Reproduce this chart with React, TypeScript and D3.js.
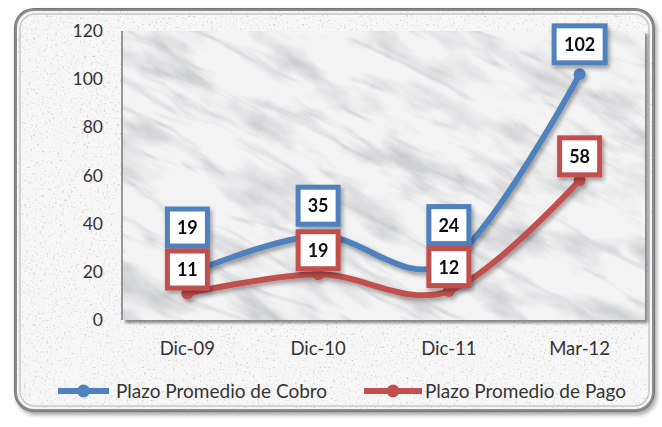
import React from 'react';
import * as d3 from 'd3';

const categories = ['Dic-09', 'Dic-10', 'Dic-11', 'Mar-12'];
const cobro = [19, 35, 24, 102];
const pago = [11, 19, 12, 58];
const yTicks = [0, 20, 40, 60, 80, 100, 120];

const seriesNames = ['Plazo Promedio de Cobro', 'Plazo Promedio de Pago'];
const BLUE = '#4f81bd';
const RED = '#c0504d';

const W = 662;
const H = 427;
const plot = { left: 122, right: 645, top: 31, bottom: 320 };

const App = () => {
    const x = d3.scalePoint<string>().domain(categories).range([plot.left, plot.right]).padding(0.5);
    const y = d3.scaleLinear().domain([0, 120]).range([plot.bottom, plot.top]);

    const line = d3.line<number>()
        .x((_, i) => x(categories[i]) as number)
        .y((d) => y(d))
        .curve(d3.curveCardinal.tension(0));

    // label placement: red sits a bit above its point, blue is stacked above red
    const redCy = pago.map((v) => y(v) - 24);
    const blueCy = cobro.map((v, i) => Math.min(y(v) - 30, redCy[i] - 42));

    const font = 'Lato, "Open Sans", sans-serif';

    const label = (v: number, cx: number, cy: number, color: string, key: string) => {
        const w = String(v).length > 2 ? 51 : 40;
        const h = 37;
        return (
            <g key={key} filter="url(#shadow)">
                <rect x={cx - w / 2} y={cy - h / 2} width={w} height={h} fill="#fff" stroke={color} strokeWidth={5} />
                <text x={cx} y={cy} dy="0.36em" textAnchor="middle" fontFamily={font} fontWeight={700} fontSize={18} fill="#111">
                    {v}
                </text>
            </g>
        );
    };

    // legend entries: [line start, line end, text x]
    const legend = [
        { col: BLUE, x0: 58, x1: 109, tx: 116 },
        { col: RED, x0: 364, x1: 422, tx: 425 },
    ];

    return (
        <svg width={W} height={H} style={{ position: 'absolute', left: 0, top: 0 }}>
            <defs>
                <filter id="speckle" x="0" y="0" width="1" height="1">
                    <feTurbulence type="fractalNoise" baseFrequency="0.45" numOctaves="2" seed="3" result="n" />
                    <feColorMatrix in="n" type="matrix"
                        values="0 0 0 0 0.62  0 0 0 0 0.62  0 0 0 0 0.64  4 0 0 0 -2.4" result="dots" />
                    <feFlood floodColor="#f7f7f7" result="base" />
                    <feMerge result="m">
                        <feMergeNode in="base" />
                        <feMergeNode in="dots" />
                    </feMerge>
                    <feComposite in="m" in2="SourceAlpha" operator="in" />
                </filter>
                <filter id="marble" x="0" y="0" width="1" height="1">
                    <feTurbulence type="fractalNoise" baseFrequency="0.012 0.03" numOctaves="5" seed="11" result="f" />
                    <feColorMatrix in="f" type="matrix"
                        values="0 0 0 0 0.52  0 0 0 0 0.53  0 0 0 0 0.56  2.2 0 0 0 -1.05" result="blots" />
                    <feTurbulence type="turbulence" baseFrequency="0.006 0.03" numOctaves="4" seed="5" result="t" />
                    <feColorMatrix in="t" type="matrix"
                        values="0 0 0 0 0.45  0 0 0 0 0.46  0 0 0 0 0.5  -2.2 0 0 0 0.5" result="veins" />
                    <feFlood floodColor="#f3f3f3" result="base" />
                    <feMerge>
                        <feMergeNode in="base" />
                        <feMergeNode in="blots" />
                        <feMergeNode in="veins" />
                    </feMerge>
                </filter>
                <filter id="shadow" x="-30%" y="-30%" width="160%" height="160%">
                    <feDropShadow dx="2" dy="3" stdDeviation="2" floodColor="#000" floodOpacity="0.35" />
                </filter>
                <filter id="plotShadow" x="-5%" y="-5%" width="110%" height="110%">
                    <feDropShadow dx="3" dy="3" stdDeviation="1.5" floodColor="#000" floodOpacity="0.45" />
                </filter>
                <clipPath id="plotClip">
                    <rect x={plot.left} y={plot.top} width={plot.right - plot.left} height={plot.bottom - plot.top} />
                </clipPath>
            </defs>

            <rect width={W} height={H} fill="#fff" />

            {/* frame */}
            <rect x={14} y={8} width={641} height={404} rx={20} fill="#777" filter="url(#shadow)" />
            <rect x={16} y={10} width={637} height={400} rx={18} fill="#fff" filter="url(#speckle)" />
            <rect x={16} y={10} width={637} height={400} rx={18} fill="none" stroke="#8c8c8c" strokeWidth={2} />
            <rect x={20} y={14} width={629} height={392} rx={15} fill="none" stroke="#c8c8c8" strokeWidth={1.5} />

            {/* plot area */}
            <rect x={plot.left} y={plot.top} width={plot.right - plot.left} height={plot.bottom - plot.top}
                fill="#eee" filter="url(#plotShadow)" />
            <g clipPath="url(#plotClip)">
                <rect x={-200} y={-300} width={1100} height={1000} fill="#fff" filter="url(#marble)"
                    transform="rotate(28 380 175)" />
            </g>
            <line x1={plot.left} x2={plot.left} y1={plot.top} y2={plot.bottom} stroke="#777" strokeWidth={1.5} />

            {/* y axis labels */}
            {yTicks.map((t) => (
                <text key={t} x={103} y={y(t)} dy="0.35em" textAnchor="end" fontFamily={font} fontSize={17.5} fill="#333">
                    {t}
                </text>
            ))}

            {/* x axis labels */}
            {categories.map((c) => (
                <text key={c} x={x(c)} y={355} textAnchor="middle" fontFamily={font} fontSize={18.5} fill="#333">
                    {c}
                </text>
            ))}

            {/* lines */}
            <g filter="url(#shadow)">
                <path d={line(cobro) ?? ''} fill="none" stroke={BLUE} strokeWidth={6} strokeLinecap="round" />
                <path d={line(pago) ?? ''} fill="none" stroke={RED} strokeWidth={6} strokeLinecap="round" />
                {cobro.map((v, i) => (
                    <circle key={'bm' + i} cx={x(categories[i])} cy={y(v)} r={6} fill={BLUE} />
                ))}
                {pago.map((v, i) => (
                    <circle key={'rm' + i} cx={x(categories[i])} cy={y(v)} r={6} fill={RED} />
                ))}
            </g>

            {/* data labels */}
            {cobro.map((v, i) => label(v, x(categories[i]) as number, blueCy[i], BLUE, 'bl' + i))}
            {pago.map((v, i) => label(v, x(categories[i]) as number, redCy[i], RED, 'rl' + i))}

            {/* legend */}
            {legend.map((e, i) => (
                <g key={e.col}>
                    <line x1={e.x0} x2={e.x1} y1={391} y2={391} stroke={e.col} strokeWidth={6} />
                    <circle cx={(e.x0 + e.x1) / 2} cy={391} r={6.5} fill={e.col} />
                    <text x={e.tx} y={391} dy="0.35em" fontFamily={font} fontSize={19} fill="#333">
                        {seriesNames[i]}
                    </text>
                </g>
            ))}
        </svg>
    );
};

export default App;
